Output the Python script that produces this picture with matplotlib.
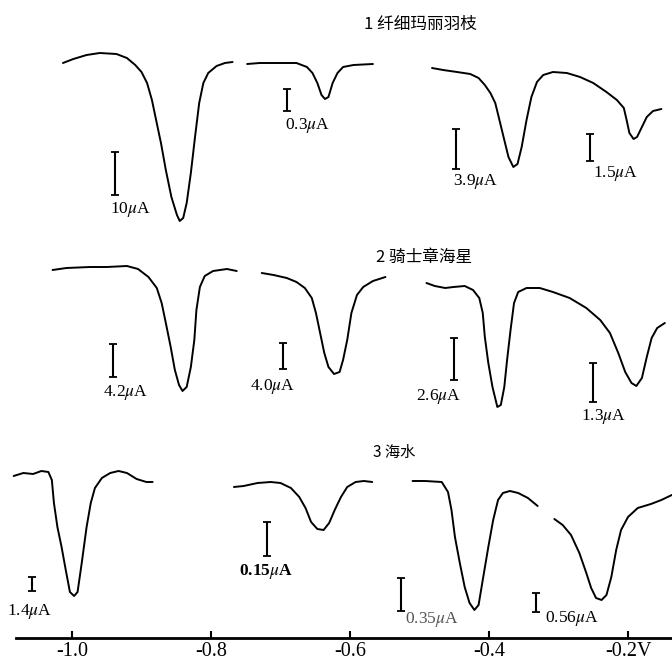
import matplotlib
matplotlib.use("Agg")
import matplotlib.pyplot as plt

# potential (V) vs pen deflection (chart units above the potential axis),
# read off the three recorded traces, each cut into the segments drawn
# row 1: 纤细玛丽羽枝
a_v = [-1.013, -0.998, -0.979, -0.960, -0.936, -0.921, -0.909, -0.900, -0.892, -0.885,
       -0.879, -0.872, -0.865, -0.857, -0.849, -0.845, -0.840, -0.835, -0.829, -0.823,
       -0.817, -0.811, -0.804, -0.792, -0.780, -0.769]
a_h = [575, 579, 583, 585, 584, 580, 573, 566, 555, 538,
       518, 495, 468, 441, 423, 417, 420, 435, 465, 501,
       535, 555, 565, 572, 575, 576]
b_v = [-0.748, -0.730, -0.701, -0.677, -0.662, -0.654, -0.647, -0.641, -0.636, -0.631,
       -0.625, -0.618, -0.610, -0.595, -0.567]
b_h = [574, 575, 575, 575, 571, 565, 555, 543, 539, 541,
       555, 565, 571, 573, 574]
c_v = [-0.482, -0.466, -0.446, -0.427, -0.415, -0.406, -0.398, -0.391, -0.385, -0.378,
       -0.372, -0.365, -0.359, -0.353, -0.346, -0.339, -0.331, -0.322, -0.308, -0.288,
       -0.269, -0.250, -0.231, -0.216, -0.206, -0.202, -0.198, -0.192, -0.187, -0.180,
       -0.173, -0.164, -0.152]
c_h = [570, 568, 566, 564, 560, 553, 545, 535, 518, 498,
       481, 471, 474, 491, 518, 541, 556, 563, 566, 565,
       561, 555, 546, 538, 530, 518, 505, 499, 501, 511,
       521, 527, 529]

# row 2: 骑士章海星
d_v = [-1.028, -1.008, -0.974, -0.950, -0.921, -0.905, -0.890, -0.878, -0.871, -0.865,
       -0.858, -0.852, -0.846, -0.841, -0.835, -0.829, -0.824, -0.821, -0.816, -0.809,
       -0.797, -0.777, -0.763]
d_h = [368, 370, 371, 371, 372, 369, 361, 350, 335, 315,
       291, 268, 253, 247, 251, 271, 298, 328, 351, 362,
       367, 369, 367]
e_v = [-0.727, -0.710, -0.691, -0.677, -0.665, -0.655, -0.649, -0.643, -0.637, -0.631,
       -0.623, -0.615, -0.610, -0.604, -0.598, -0.590, -0.581, -0.567, -0.549]
e_h = [365, 363, 360, 356, 350, 340, 325, 305, 285, 271,
       264, 266, 278, 298, 325, 343, 351, 357, 361]
f_v = [-0.490, -0.478, -0.463, -0.451, -0.435, -0.423, -0.414, -0.409, -0.406, -0.401,
       -0.395, -0.388, -0.383, -0.378, -0.374, -0.369, -0.364, -0.358, -0.346, -0.327,
       -0.308, -0.284, -0.260, -0.240, -0.226, -0.214, -0.204, -0.195, -0.188, -0.180,
       -0.173, -0.166, -0.158, -0.147]
f_h = [355, 352, 350, 351, 352, 348, 340, 325, 301, 275,
       251, 231, 233, 251, 278, 308, 335, 346, 350, 350,
       346, 340, 330, 318, 305, 285, 266, 255, 252, 260,
       281, 300, 310, 315]

# row 3: 海水
g_v = [-1.084, -1.070, -1.056, -1.044, -1.034, -1.029, -1.026, -1.021, -1.015, -1.009,
       -1.003, -0.997, -0.992, -0.986, -0.979, -0.973, -0.967, -0.957, -0.945, -0.933,
       -0.921, -0.907, -0.893, -0.884]
g_h = [162, 165, 164, 167, 166, 158, 135, 111, 91, 68,
       46, 42, 46, 75, 111, 135, 150, 160, 165, 167,
       165, 159, 156, 156]
h_v = [-0.767, -0.753, -0.733, -0.714, -0.700, -0.685, -0.673, -0.664, -0.656, -0.647,
       -0.638, -0.630, -0.622, -0.613, -0.604, -0.592, -0.580, -0.568]
h_h = [151, 152, 155, 156, 155, 150, 141, 130, 116, 109,
       108, 115, 128, 141, 151, 156, 157, 156]
i_v = [-0.510, -0.492, -0.468, -0.459, -0.454, -0.449, -0.442, -0.435, -0.428, -0.421,
       -0.415, -0.409, -0.401, -0.394, -0.387, -0.380, -0.370, -0.358, -0.344, -0.330]
i_h = [157, 157, 156, 146, 128, 101, 75, 51, 35, 28,
       33, 58, 91, 118, 138, 145, 147, 145, 140, 132]
j_v = [-0.306, -0.294, -0.282, -0.270, -0.260, -0.253, -0.246, -0.238, -0.231, -0.224,
       -0.217, -0.210, -0.200, -0.186, -0.167, -0.152, -0.137]
j_h = [119, 113, 103, 85, 65, 50, 40, 38, 43, 61,
       88, 108, 121, 130, 134, 138, 143]

traces = [(a_v, a_h), (b_v, b_h), (c_v, c_h),
          (d_v, d_h), (e_v, e_h), (f_v, f_h),
          (g_v, g_h), (h_v, h_h), (i_v, i_h), (j_v, j_h)]

# current scale bars: label, potential, lower and upper deflection
bar_labels = ["10", "0.3", "3.9", "1.5",
              "4.2", "4.0", "2.6", "1.3",
              "1.4", "0.15", "0.35", "0.56"]
bar_v = [-0.938, -0.690, -0.448, -0.254,
         -0.941, -0.697, -0.451, -0.250,
         -1.058, -0.719, -0.527, -0.332]
bar_low = [443, 527, 469, 477,
           261, 269, 258, 236,
           47, 82, 27, 26]
bar_high = [486, 549, 509, 504,
            294, 295, 300, 275,
            61, 116, 60, 45]
lab_v = [-0.945, -0.694, -0.452, -0.250,
         -0.955, -0.744, -0.505, -0.268,
         -1.094, -0.760, -0.521, -0.320]
lab_h = [428, 512, 456, 464,
         245, 251, 241, 221,
         26, 66, 18, 19]

titles = ["1 纤细玛丽羽枝", "2 骑士章海星", "3 海水"]
title_v = [-0.499, -0.493, -0.536]
title_h = [614, 381, 186]

ticks = [-1.0, -0.8, -0.6, -0.4, -0.2]
tick_labels = ["-1.0", "-0.8", "-0.6", "-0.4", "-0.2V"]

plt.rcParams['font.family'] = ['Liberation Serif', 'DejaVu Serif']
plt.rcParams['mathtext.fontset'] = 'stix'

fig = plt.figure(figsize=(6.72, 6.61), dpi=100)
ax = fig.add_axes([0, 0.0348, 1, 0.9652])
ax.set_xlim(-1.1036, -0.1367)
ax.set_ylim(0, 638)

for v, h in traces:
    ax.plot(v, h, color='black', lw=1.4, solid_capstyle='round', solid_joinstyle='round')

for lab, v, lo, hi, lv, lh in zip(bar_labels, bar_v, bar_low, bar_high, lab_v, lab_h):
    ax.errorbar(v, (lo + hi) / 2, yerr=(hi - lo) / 2, fmt='none', ecolor='black',
                elinewidth=1.5, capsize=3, capthick=1.3)
    weight = 'bold' if lab == "0.15" else 'normal'
    col = '#555555' if lab == "0.35" else 'black'
    ax.text(lv, lh, lab + r"$\mu$A", fontsize=12.5, ha='left', va='center',
            fontweight=weight, color=col)

for t, v, h in zip(titles, title_v, title_h):
    ax.text(v, h, t, fontsize=12 if t != "3 海水" else 11, ha='center', va='center',
            family=['Noto Sans CJK SC', 'DejaVu Sans'])

for s in ['top', 'left', 'right']:
    ax.spines[s].set_visible(False)
ax.spines['bottom'].set_linewidth(2)
ax.spines['bottom'].set_bounds(-1.080, -0.1367)
ax.set_yticks([])
ax.set_xticks(ticks)
ax.set_xticklabels(tick_labels)
ax.tick_params(axis='x', direction='in', length=5, width=1.5, pad=3, labelsize=14.5)

fig.savefig("out.png", dpi=100)
